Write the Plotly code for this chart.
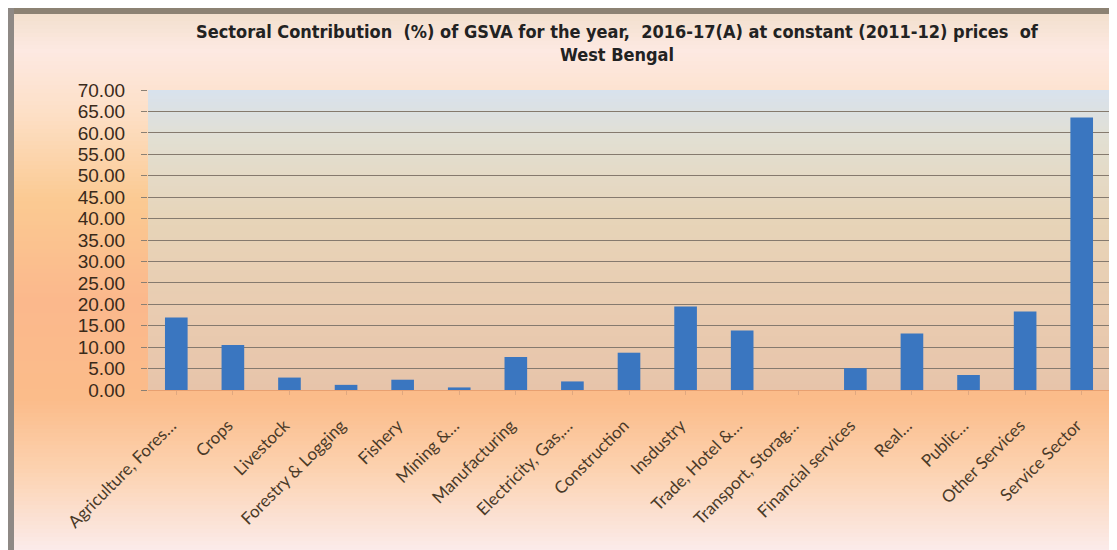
import plotly.graph_objects as go

categories = ["Agriculture, Fores…", "Crops", "Livestock", "Forestry & Logging", "Fishery",
              "Mining &…", "Manufacturing", "Electricity, Gas,…", "Construction", "Insdustry",
              "Trade, Hotel &…", "Transport, Storag…", "Financial services", "Real…", "Public…",
              "Other Services", "Service Sector"]
values = [16.9, 10.5, 2.9, 1.2, 2.4, 0.6, 7.7, 2.0, 8.7, 19.5,
          13.9, 0.0, 5.1, 13.2, 3.5, 18.3, 63.6]
y_ticks = [0, 5, 10, 15, 20, 25, 30, 35, 40, 45, 50, 55, 60, 65, 70]

OFF = 8  # page body margin
W, H = 1117 - OFF, 550 - OFF
# plot area in reference (window) pixels
L, R, T, B = 148, 1110, 90, 390


def px_to_paper_x(px):
    return (px - L) / (R - L)


def px_to_paper_y(py):
    return (B - py) / (B - T)


def hex2rgb(h):
    h = h.lstrip('#')
    return tuple(int(h[i:i + 2], 16) for i in (0, 2, 4))


def interp(stops, y):
    for (y0, c0), (y1, c1) in zip(stops[:-1], stops[1:]):
        if y0 <= y <= y1:
            t = (y - y0) / (y1 - y0) if y1 > y0 else 0
            a, b = hex2rgb(c0), hex2rgb(c1)
            return "rgb(%d,%d,%d)" % tuple(round(a[i] + (b[i] - a[i]) * t) for i in range(3))
    return stops[-1][1]


shapes = []
# outer gradient background
outer_stops = [(13, "#f2e0cd"), (50, "#fde9e2"), (110, "#fde0c8"), (200, "#fbca92"),
               (300, "#fbb88c"), (400, "#fbbc8a"), (470, "#fcd2b0"), (550, "#fbebea")]
step = 4
for y in range(13, 550, step):
    c = interp(outer_stops, y + step / 2)
    shapes.append(dict(type="rect", xref="paper", yref="paper", layer="below",
                       x0=px_to_paper_x(14), x1=px_to_paper_x(1117 + 5),
                       y0=px_to_paper_y(y), y1=px_to_paper_y(min(y + step, 555)),
                       fillcolor=c, line=dict(width=0)))
# plot-area gradient
plot_stops = [(90, "#d8e2ee"), (140, "#e2dfd2"), (220, "#e7d4b8"), (320, "#e9cbb0"), (390, "#e7c4aa")]
step = 3
for y in range(T, B, step):
    c = interp(plot_stops, y + step / 2)
    shapes.append(dict(type="rect", xref="paper", yref="paper", layer="below",
                       x0=0, x1=1, y0=px_to_paper_y(y), y1=px_to_paper_y(min(y + step, B)),
                       fillcolor=c, line=dict(width=0)))
# frame borders (top and left)
shapes.append(dict(type="rect", xref="paper", yref="paper", layer="below",
                   x0=px_to_paper_x(8), x1=px_to_paper_x(1122), y0=px_to_paper_y(8), y1=px_to_paper_y(14),
                   fillcolor="#8c8273", line=dict(width=0)))
shapes.append(dict(type="rect", xref="paper", yref="paper", layer="below",
                   x0=px_to_paper_x(8), x1=px_to_paper_x(14), y0=px_to_paper_y(8), y1=px_to_paper_y(555),
                   fillcolor="#8e8985", line=dict(width=0)))

fig = go.Figure(go.Bar(x=categories, y=values, marker=dict(color="#3a76c0", line=dict(width=0)),
                       width=0.4))

fig.update_layout(
    width=W, height=H,
    margin=dict(l=L - OFF, r=1117 - R, t=T - OFF, b=550 - B, pad=0),
    paper_bgcolor="white", plot_bgcolor="rgba(0,0,0,0)",
    shapes=shapes,
    showlegend=False,
    title=dict(text="<b>Sectoral Contribution  (%) of GSVA for the year,  2016-17(A) at constant (2011-12) prices  of<br>West Bengal</b>",
               x=(617 - OFF) / W, xref="container", xanchor="center", y=1 - (38 - OFF) / H, yanchor="middle",
               font=dict(family="DejaVu Sans Condensed, Liberation Sans Narrow, Liberation Sans", size=18,
                         color="#222222")),
    xaxis=dict(tickangle=-45, showgrid=False, showline=True, linecolor="#e8a070", linewidth=1,
               ticks="outside", ticklen=4, tickcolor="#e0a880", ticklabelstandoff=14, ticklabelshift=-5,
               tickfont=dict(family="Lato, Open Sans, sans-serif", size=17, color="#4a3a28")),
    yaxis=dict(range=[0, 70], tickvals=y_ticks, tickformat=".2f", showgrid=True,
               gridcolor="#857a6e", gridwidth=1, zeroline=False, showline=False,
               ticks="outside", ticklen=6, tickcolor="#8a8074", ticklabelstandoff=12,
               tickfont=dict(family="Liberation Sans, Arial", size=19, color="#3a2a1a")),
    bargap=0.6,
)

fig.write_html("out.html")
